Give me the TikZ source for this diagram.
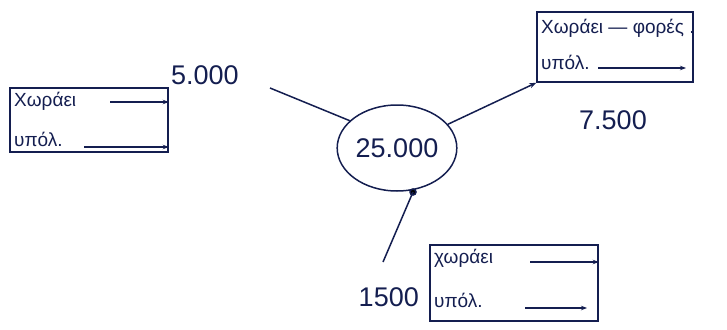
\documentclass[tikz,border=0pt]{standalone}
\usepackage{fontspec}
\setmainfont{Liberation Sans}
\usetikzlibrary{arrows.meta,shapes.geometric}
\definecolor{ink}{RGB}{20,30,80}
\tikzset{
  ink/.style={draw=ink, line width=1.5pt},
  box/.style={ink, rectangle, inner sep=0pt},
  hw/.style={text=ink, font=\fontsize{19}{22}\selectfont, inner sep=1pt},
  num/.style={text=ink, font=\fontsize{27}{30}\selectfont, inner sep=1pt},
  fill line/.style={ink, -{Stealth[length=6pt]}},
}
\begin{document}
\begin{tikzpicture}[x=1pt,y=-1pt]
\useasboundingbox (0,0) rectangle (727,329);
% centre circle
\node[ink, ellipse, minimum width=106pt, minimum height=86pt, inner sep=0pt, num] (c) at (397,148) {25.000};
\fill[ink] (413,192) circle (3pt);
\coordinate (cb) at (413,192);

% left box
\node[box, minimum width=158pt, minimum height=64pt] (L) at (89,120) {};
\node[hw, anchor=west] (L1) at (13,101) {Χωράει};
\node[hw, anchor=west] (L2) at (13,139) {υπόλ.};
\coordinate (l1s) at (110,102);
\coordinate (l2s) at (84,147);
\draw[fill line] (l1s) -- (L.east |- l1s);
\draw[fill line] (l2s) -- (L.east |- l2s);
\node[num, anchor=south west] (N5) at (170,86) {5.000};

% right box
\node[box, minimum width=156pt, minimum height=70pt] (R) at (615,47) {};
\node[hw, anchor=west] (R1) at (540,28) {Χωράει — φορές .};
\node[hw, anchor=west] (R2) at (540,62) {υπόλ.};
\coordinate (r2s) at (598,68);
\coordinate (r2e) at (686,68);
\draw[fill line] (r2s) -- (r2e);
\node[num, anchor=west] (N7) at (578,120) {7.500};

% bottom box
\node[box, minimum width=168pt, minimum height=76pt] (B) at (514,283) {};
\node[hw, anchor=west] (B1) at (433,258) {χωράει};
\node[hw, anchor=west] (B2) at (433,300) {υπόλ.};
\coordinate (b1s) at (530,262);
\coordinate (b2s) at (525,308);
\coordinate (b2e) at (587,308);
\draw[fill line] (b1s) -- (B.east |- b1s);
\draw[fill line] (b2s) -- (b2e);
\node[num, anchor=east] (N1) at (420,297) {1500};

% connectors
\coordinate (l5) at (270,88);
\draw[ink] (l5) -- (c.150);
\draw[ink, -{Stealth[length=7pt]}] (c.25) -- (R.south west);
\coordinate (bt) at (383,262);
\draw[ink] (cb) -- (bt);
\end{tikzpicture}
\end{document}
